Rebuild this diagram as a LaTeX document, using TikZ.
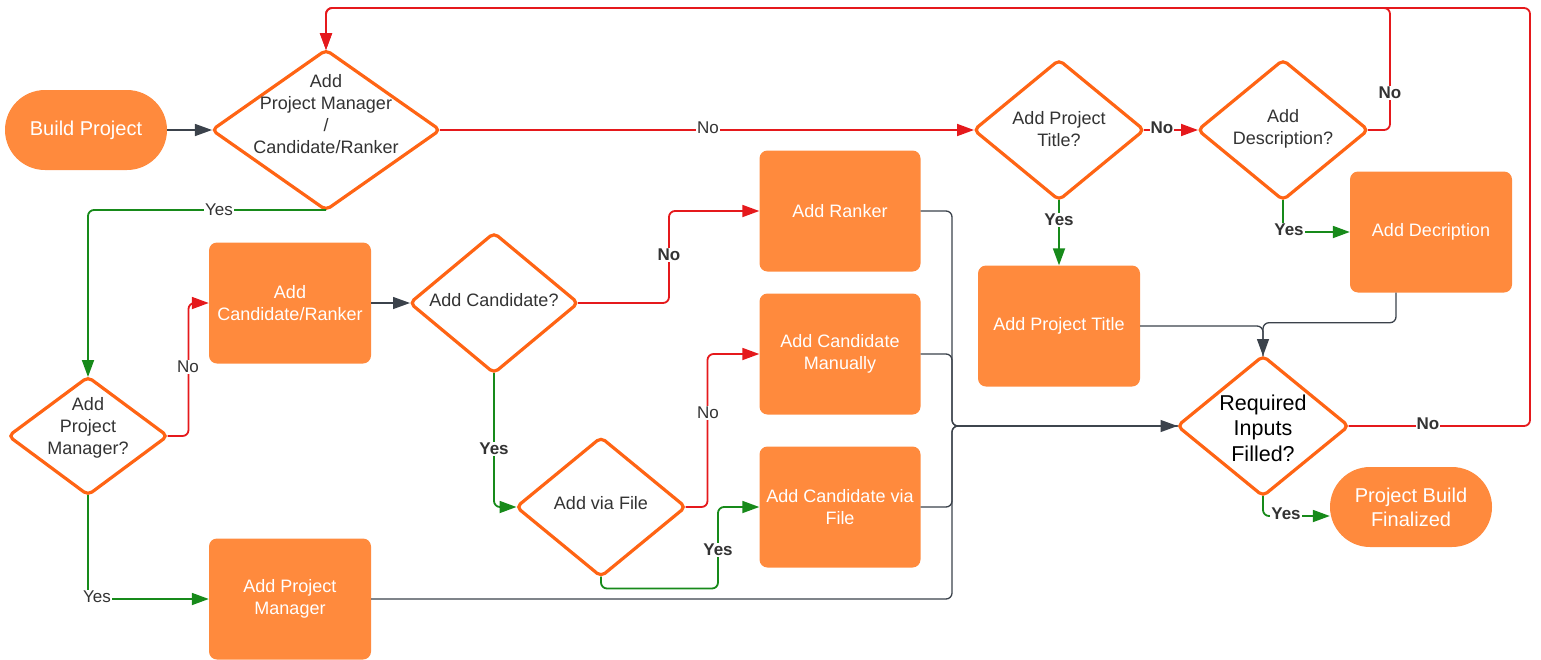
\documentclass[tikz,border=0pt]{standalone}
\usepackage{fontspec}
\setmainfont{Liberation Sans}
\usetikzlibrary{shapes.geometric,arrows.meta}
\definecolor{boxfill}{HTML}{FF8A3D}
\definecolor{decline}{HTML}{FF6414}
\definecolor{nored}{HTML}{E5191C}
\definecolor{yesgreen}{HTML}{178A1A}
\definecolor{flowgray}{HTML}{3B424B}
\definecolor{txtgray}{HTML}{333333}
\tikzset{
  every node/.style={font=\fontsize{18}{22}\selectfont},
  process/.style={rectangle, rounded corners=8pt, fill=boxfill, text=white,
    minimum width=162pt, minimum height=121pt, align=center, inner sep=0pt},
  terminal/.style={rectangle, rounded corners=40pt, fill=boxfill, text=white,
    minimum width=162pt, minimum height=80pt, align=center, inner sep=0pt,
    font=\fontsize{20}{24}\selectfont},
  decision/.style={diamond, draw=decline, line width=3.2pt, rounded corners=5pt,
    fill=white, inner sep=0pt, outer sep=0pt},
  dtext/.style={text=txtgray, align=center, inner sep=0pt},
  lbl/.style={fill=white, text=txtgray, inner sep=1pt, font=\fontsize{17}{19}\selectfont},
  blbl/.style={lbl, font=\fontsize{17}{19}\selectfont\bfseries},
  tip/.style={-{Triangle[length=17pt,width=12pt]}},
  nopath/.style={draw=nored, line width=1.8pt, rounded corners=6pt},
  yespath/.style={draw=yesgreen, line width=1.8pt, rounded corners=6pt},
  flow/.style={draw=flowgray, line width=1.3pt, rounded corners=6pt},
}
\begin{document}
\begin{tikzpicture}[x=1pt,y=-1pt]
\useasboundingbox (0,0) rectangle (1541,659);

% ---- shapes ----
\node[terminal] (start) at (86,130) {Build Project};
\node[decision, minimum width=228pt, minimum height=160pt] (d1) at (326,130) {};
\node[dtext] (d1t) at (326,114) {Add\\Project Manager\\/\\Candidate/Ranker};

\node[decision, minimum width=159pt, minimum height=118pt] (dpm) at (88,436) {};
\node[dtext] (dpmt) at (88,428) {Add\\Project\\Manager?};

\node[process] (cr) at (290,303) {Add\\Candidate/Ranker};
\node[process] (pm) at (290,599) {Add Project\\Manager};

\node[decision, minimum width=168pt, minimum height=140pt] (dc) at (494,303) {};
\node[dtext] (dct) at (494,300) {Add Candidate?};

\node[decision, minimum width=169pt, minimum height=139pt] (df) at (601,507) {};
\node[dtext] (dft) at (601,503) {Add via File};

\node[process, minimum width=161pt] (rk) at (840,211) {Add Ranker};
\node[process, minimum width=161pt] (man) at (840,354) {Add Candidate\\Manually};
\node[process, minimum width=161pt] (vf) at (840,507) {Add Candidate via\\File};

\node[decision, minimum width=170pt, minimum height=140pt] (dt) at (1059,130) {};
\node[dtext] (dtt) at (1059,129) {Add Project\\Title?};
\node[decision, minimum width=170pt, minimum height=140pt] (dd) at (1283,130) {};
\node[dtext] (ddt) at (1283,129) {Add\\Description?};

\node[process] (pt) at (1059,326) {Add Project Title};
\node[process] (de) at (1431,232) {Add Decription};

\node[decision, minimum width=171pt, minimum height=140pt] (rq) at (1263,426) {};
\node[dtext, text=black, font=\fontsize{21.5}{25.5}\selectfont] (rqt) at (1263,428) {Required\\Inputs\\Filled?};

\node[terminal] (fin) at (1411,507) {Project Build\\Finalized};

% ---- helper points ----
\coordinate (bus) at (952,426);
\coordinate (loopA) at (1390,8);
\coordinate (loopB) at (1530,8);

% ---- connectors ----
\draw[flow, tip] (start) -- (d1);
\draw[nopath, tip] (d1.east) -- (dt.west);
\draw[yespath, tip] (d1.south) -| (dpm.north);
\draw[nopath, tip] (dpm.east) -- ++(21,0) |- (cr.west);
\draw[yespath, tip] (dpm.south) |- (pm.west);
\draw[flow, tip] (cr.east) -- (dc.west);
\draw[nopath, tip] (dc.east) -- ++(91,0) |- (rk.west);
\draw[yespath, tip] (dc.south) |- (df.west);
\draw[nopath, tip] (df.east) -- ++(22,0) |- (man.west);
\draw[yespath, tip] (df.south) -- ++(0,12) -- ++(117,0) |- (vf.west);

\draw[flow] (rk.east) -| (bus) -- (rq.west);
\draw[flow] (man.east) -| (bus) -- (rq.west);
\draw[flow] (vf.east) -| (bus) -- (rq.west);
\draw[flow, tip] (pm.east) -| (bus) -- (rq.west);

\draw[yespath, tip] (dt.south) -- (pt.north);
\draw[nopath, tip] (dt.east) -- (dd.west);
\draw[yespath, tip] (dd.south) |- (de.west);
\draw[nopath, tip] (dd.east) -| (loopA) -| (d1.north);
\draw[nopath, tip] (rq.east) -| (loopB) -| (d1.north);

\draw[flow] (pt.east) -| (rq.north);
\draw[flow, tip] ([xshift=-35pt]de.south) -- ++(0,30) -| (rq.north);
\draw[yespath, tip] (rq.south) |- ([yshift=-9pt]fin.west);

% ---- connector labels ----
\node[lbl]  (l1)  at (708,128) {No};
\node[lbl]  (l2)  at (219,210) {Yes};
\node[lbl]  (l3)  at (188,367) {No};
\node[lbl]  (l4)  at (97,597) {Yes};
\node[blbl] (l5)  at (669,255) {No};
\node[blbl] (l6)  at (494,449) {Yes};
\node[lbl]  (l7)  at (708,413) {No};
\node[blbl] (l8)  at (718,550) {Yes};
\node[blbl] (l9)  at (1162,128) {No};
\node[blbl] (l10) at (1059,220) {Yes};
\node[blbl] (l11) at (1390,93) {No};
\node[blbl] (l12) at (1289,230) {Yes};
\node[blbl] (l13) at (1428,424) {No};
\node[blbl] (l14) at (1286,514) {Yes};
\end{tikzpicture}
\end{document}
